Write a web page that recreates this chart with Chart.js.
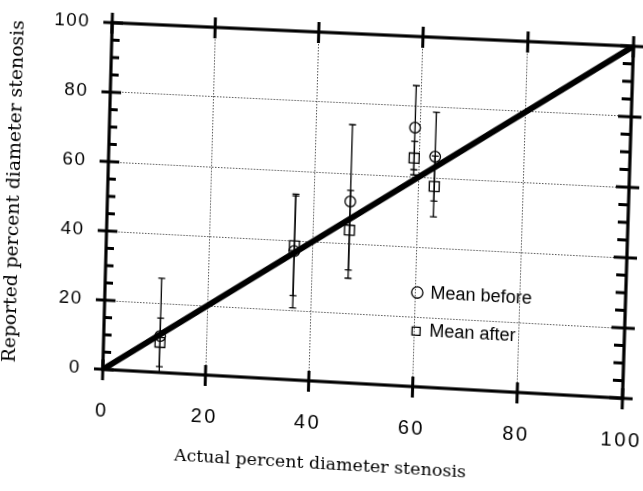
<!DOCTYPE html>
<html>
<head>
<meta charset="utf-8">
<script src="https://cdn.jsdelivr.net/npm/chart.js@4/dist/chart.umd.min.js"></script>
<style>
html,body{margin:0;padding:0;background:#fff;overflow:hidden;width:643px;height:491px}
#wrap{position:absolute;left:0;top:0;width:659px;height:491px;transform-origin:0 0}
canvas{display:block}
</style>
</head>
<body>
<div id="wrap"><canvas id="c" width="659" height="491"></canvas></div>
<script>
// ---- data ----
const actualPct   = [11, 36.5, 47, 59, 63];
const meanBefore  = [10.5, 37, 52, 74, 66];
const errBefore   = [16.7, 16.3, 22, 12, 12.7];
const meanAfter   = [8.7, 38.5, 43.8, 65.3, 57.5];
const errAfter    = [7, 14.3, 11.4, 4.8, 8.7];
const identityLine = [0, 100];
const majorTicks  = [0, 20, 40, 60, 80, 100];
const minorYTicks = [5, 10, 15, 25, 30, 35, 45, 50, 55, 65, 70, 75, 85, 90, 95];
const seriesNames = ['Mean before', 'Mean after'];
const xTitle = 'Actual percent diameter stenosis';
const yTitle = 'Reported percent diameter stenosis';

// ---- page geometry: the scanned page is slightly skewed ----
function quadTransform(r, q) {
  const [x0, y0] = q[0], [x1, y1] = q[1], [x2, y2] = q[2], [x3, y3] = q[3];
  const dx1 = x1 - x2, dx2 = x3 - x2, dx3 = x0 - x1 + x2 - x3;
  const dy1 = y1 - y2, dy2 = y3 - y2, dy3 = y0 - y1 + y2 - y3;
  const den = dx1 * dy2 - dx2 * dy1;
  const g = (dx3 * dy2 - dx2 * dy3) / den;
  const h = (dx1 * dy3 - dx3 * dy1) / den;
  const a = x1 - x0 + g * x1, b = x3 - x0 + h * x3, c = x0;
  const d = y1 - y0 + g * y1, e = y3 - y0 + h * y3, f = y0;
  const A = a / r.w, B = b / r.h, C = c - a * r.x / r.w - b * r.y / r.h;
  const D = d / r.w, E = e / r.h, F = f - d * r.x / r.w - e * r.y / r.h;
  const G = g / r.w, H = h / r.h, I = 1 - g * r.x / r.w - h * r.y / r.h;
  return `matrix3d(${A},${D},0,${G},${B},${E},0,${H},0,0,1,0,${C},${F},0,${I})`;
}
const AREA = {x: 108, y: 34, w: 521, h: 350};
document.getElementById('wrap').style.transform = quadTransform(AREA,
  [[112.2, 22.7], [633.5, 46.3], [622.5, 398.3], [102.8, 369.3]]);

const toPts = (xs, ys) => xs.map((v, i) => ({x: v, y: ys[i]}));

const errorBars = {
  id: 'errorBars',
  afterDatasetsDraw(chart) {
    const {ctx, chartArea: a, scales: {x, y}} = chart;
    ctx.save();
    ctx.beginPath();
    ctx.rect(a.left, a.top, a.right - a.left, a.bottom - a.top);
    ctx.clip();
    ctx.strokeStyle = '#000';
    ctx.lineWidth = 1.3;
    [[meanBefore, errBefore], [meanAfter, errAfter]].forEach(([m, e]) => {
      actualPct.forEach((xv, i) => {
        const px = x.getPixelForValue(xv);
        const lo = y.getPixelForValue(m[i] - e[i]);
        const hi = y.getPixelForValue(m[i] + e[i]);
        ctx.beginPath();
        ctx.moveTo(px, lo); ctx.lineTo(px, hi);
        ctx.moveTo(px - 3.5, lo); ctx.lineTo(px + 3.5, lo);
        ctx.moveTo(px - 3.5, hi); ctx.lineTo(px + 3.5, hi);
        ctx.stroke();
      });
    });
    ctx.restore();
  }
};

const frameTicks = {
  id: 'frameTicks',
  afterDraw(chart) {
    const {ctx, chartArea: a, scales: {x, y}} = chart;
    ctx.save();
    ctx.strokeStyle = '#000';
    ctx.lineCap = 'square';
    ctx.lineWidth = 3.2;
    ctx.strokeRect(a.left, a.top, a.right - a.left, a.bottom - a.top);
    ctx.lineCap = 'butt';
    ctx.lineWidth = 3;
    ctx.beginPath();
    majorTicks.forEach(v => {
      const py = y.getPixelForValue(v);
      ctx.moveTo(a.left - 9, py); ctx.lineTo(a.left + 11, py);
      ctx.moveTo(a.right - 13, py); ctx.lineTo(a.right + 10, py);
      const px = x.getPixelForValue(v);
      ctx.moveTo(px, a.bottom - 10); ctx.lineTo(px, a.bottom + 11);
      ctx.moveTo(px, a.top - 10); ctx.lineTo(px, a.top + 11);
    });
    minorYTicks.forEach(v => {
      const py = y.getPixelForValue(v);
      ctx.moveTo(a.left, py); ctx.lineTo(a.left + 8, py);
      ctx.moveTo(a.right - 10, py); ctx.lineTo(a.right, py);
    });
    ctx.stroke();
    ctx.restore();
  }
};

// wider letter tracking of the tick numerals
const tickTracking = {
  id: 'tickTracking',
  beforeDraw(chart) {
    [['x', '2.5px'], ['y', '1.5px']].forEach(([id, sp]) => {
      const s = chart.scales[id];
      if (!s || s._tracked) return;
      const orig = s.drawLabels.bind(s);
      s.drawLabels = function (area) {
        const ctx = this.ctx;
        ctx.save();
        ctx.letterSpacing = sp;
        orig(area);
        ctx.restore();
      };
      s._tracked = true;
    });
  }
};

const legendPlace = {
  id: 'legendPlace',
  afterLayout(chart) {
    const lg = chart.legend;
    lg.left = 397.6; lg.top = 259.8;
    lg.right = lg.left + 200; lg.bottom = lg.top + 200;
    lg.width = 200; lg.height = 200;
  }
};

const gridOpts = {color: '#555', lineWidth: 1, drawTicks: false};
const borderOpts = {display: false, dash: [1.5, 1.5]};

new Chart(document.getElementById('c'), {
  type: 'scatter',
  data: {
    datasets: [
      {label: seriesNames[0], data: toPts(actualPct, meanBefore), pointStyle: 'circle', pointRadius: 5.3,
       borderColor: '#000', backgroundColor: 'rgba(0,0,0,0)', borderWidth: 1.3},
      {label: seriesNames[1], data: toPts(actualPct, meanAfter), pointStyle: 'rect', pointRadius: 7,
       borderColor: '#000', backgroundColor: 'rgba(0,0,0,0)', borderWidth: 1.3},
      {label: 'identity', data: toPts(identityLine, identityLine), showLine: true, pointRadius: 0, borderWidth: 6,
       borderColor: '#000', backgroundColor: '#000'}
    ]
  },
  options: {
    responsive: false, animation: false, devicePixelRatio: 1, events: [],
    layout: {padding: {left: 0, right: 0, top: 0, bottom: 13.5}},
    scales: {
      x: {type: 'linear', position: 'bottom', min: 0, max: 100,
        afterFit: s => { s.height = 72.5; s.paddingLeft = 0; s.paddingRight = 0; },
        grid: gridOpts, border: borderOpts,
        ticks: {stepSize: 20, autoSkip: false, padding: 30.6, color: '#000', font: {family: 'Liberation Sans', size: 20}, maxRotation: 0}},
      x2: {type: 'linear', position: 'top', min: 0, max: 100,
        afterFit: s => { s.height = 34; s.paddingLeft = 0; s.paddingRight = 0; },
        grid: {display: false}, border: {display: false}, ticks: {display: false}},
      y: {type: 'linear', position: 'left', min: 0, max: 100,
        afterFit: s => { s.width = 108; s.paddingTop = 0; s.paddingBottom = 0; },
        grid: gridOpts, border: borderOpts,
        ticks: {stepSize: 20, padding: 22.5, color: '#000', font: {family: 'Liberation Sans', size: 19}},
        title: {display: true, text: yTitle, color: '#000', font: {family: 'DejaVu Serif', size: 19}, padding: {top: 2, bottom: 0}}},
      y2: {type: 'linear', position: 'right', min: 0, max: 100,
        afterFit: s => { s.width = 30; s.paddingTop = 0; s.paddingBottom = 0; },
        grid: {display: false}, border: {display: false}, ticks: {display: false}}
    },
    plugins: {
      title: {display: true, text: xTitle, position: 'bottom', color: '#000',
              font: {family: 'DejaVu Serif', size: 17.5, weight: 'normal'}, padding: 0},
      legend: {display: true, position: 'chartArea', align: 'start',
        labels: {usePointStyle: true, boxWidth: 8, boxHeight: 8, padding: 20.8, color: '#000',
                 font: {family: 'Liberation Sans', size: 18}, filter: item => item.datasetIndex < 2}},
      tooltip: {enabled: false}
    }
  },
  plugins: [errorBars, frameTicks, tickTracking, legendPlace]
});
</script>
</body>
</html>
